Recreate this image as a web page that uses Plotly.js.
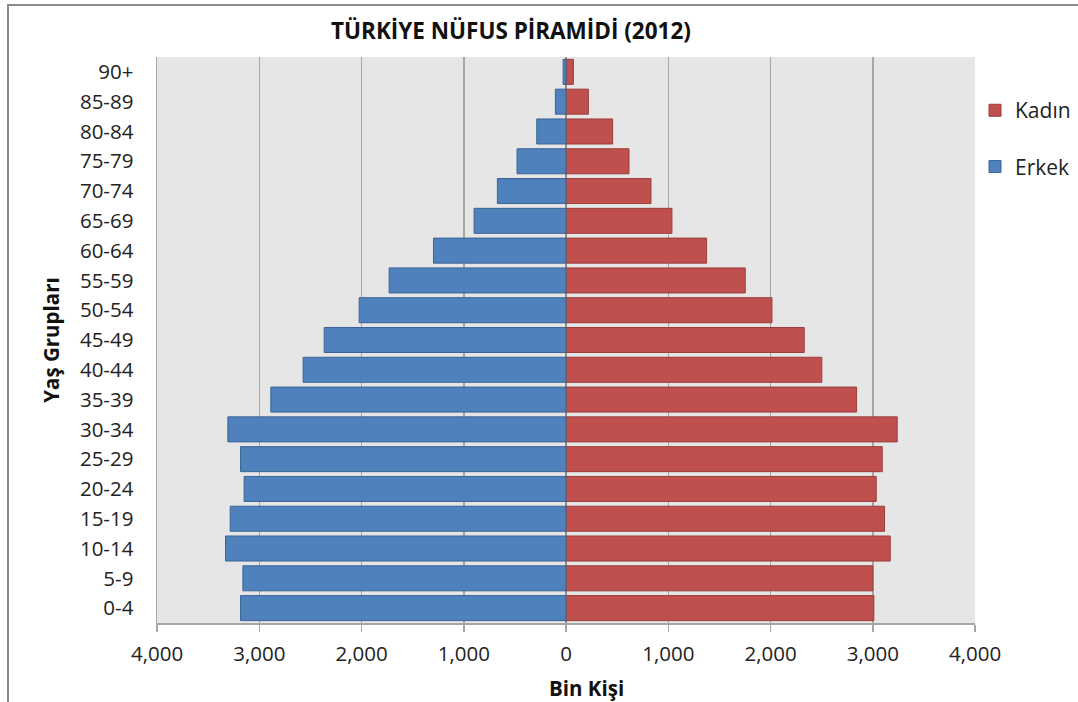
<!DOCTYPE html>
<html>
<head>
<meta charset="utf-8">
<script src="https://cdn.plot.ly/plotly-3.0.1.min.js"></script>
<style>
  html, body { margin: 0; padding: 0; background: #ffffff; }
  #frame { position: absolute; left: 7px; top: 4px; width: 1100px; height: 720px; border: 2px solid #8a8a8a; box-sizing: border-box; pointer-events: none; z-index: 5; }
  #chart { position: absolute; left: 0; top: 0; width: 1078px; height: 702px; }
</style>
</head>
<body>
<div id="chart"></div>
<div id="frame"></div>
<script>
// Age groups (bottom to top)
const ageGroups = ["0-4","5-9","10-14","15-19","20-24","25-29","30-34","35-39","40-44","45-49","50-54","55-59","60-64","65-69","70-74","75-79","80-84","85-89","90+"];
// Erkek (male), thousands
const erkek = [3183, 3160, 3330, 3284, 3148, 3183, 3307, 2887, 2571, 2365, 2023, 1730, 1296, 899, 671, 479, 286, 104, 28];
// Kadın (female), thousands
const kadin = [3011, 3001, 3171, 3115, 3034, 3093, 3239, 2842, 2502, 2330, 2014, 1753, 1375, 1036, 831, 616, 456, 219, 72];
// X ticks
const xTickVals = [-4000, -3000, -2000, -1000, 0, 1000, 2000, 3000, 4000];
const xTickText = ["4,000", "3,000", "2,000", "1,000", "0", "1,000", "2,000", "3,000", "4,000"];

const fontFam = "Open Sans, Noto Sans, sans-serif";

const traces = [
  {
    type: "bar", orientation: "h", name: "Kadın",
    y: ageGroups, x: kadin,
    marker: { color: "#C0504D", line: { color: "#9B3D3A", width: 1 } },
    legendgroup: "k", legendrank: 1,
    hoverinfo: "x+y"
  },
  {
    type: "bar", orientation: "h", name: "Erkek",
    y: ageGroups, x: erkek.map(v => -v),
    marker: { color: "#4F81BD", line: { color: "#3A6595", width: 1 } },
    legendgroup: "e", legendrank: 2,
    hoverinfo: "x+y"
  }
];

const layout = {
  width: 1078, height: 702,
  margin: { l: 157, r: 103, t: 57, b: 79, pad: 0, autoexpand: false },
  paper_bgcolor: "#ffffff",
  plot_bgcolor: "#E6E6E6",
  barmode: "relative",
  bargap: 0.16,
  font: { family: fontFam, color: "#222222", size: 20 },
  title: {
    text: "<b>TÜRKİYE NÜFUS PİRAMİDİ (2012)</b>",
    font: { family: fontFam, size: 22.5, color: "#111111" },
    x: 0.474, xanchor: "center", y: 0.955, yanchor: "middle"
  },
  xaxis: {
    range: [-4000, 4000],
    tickvals: xTickVals, ticktext: xTickText,
    showgrid: true, gridcolor: "#A6A6A6", gridwidth: 1.5,
    zeroline: true, zerolinecolor: "#8C8C8C", zerolinewidth: 1.5,
    showline: true, linecolor: "#A6A6A6", linewidth: 1.5,
    ticks: "outside", ticklen: 7, tickcolor: "#A6A6A6", tickwidth: 1.5,
    tickfont: { family: fontFam, size: 20.5, color: "#222222" },
    ticklabelstandoff: 5,
    automargin: false,
    fixedrange: true
  },
  yaxis: {
    type: "category",
    categoryorder: "array", categoryarray: ageGroups,
    showgrid: false,
    showline: true, linecolor: "#A6A6A6", linewidth: 1.5,
    ticks: "",
    tickfont: { family: fontFam, size: 20.5, color: "#222222" },
    ticklabelstandoff: 18,
    automargin: false,
    title: { text: "<b>Yaş Grupları</b>", font: { family: fontFam, size: 20.5, color: "#111111" }, standoff: 14 },
    fixedrange: true
  },
  annotations: [
    {
      text: "<b>Bin Kişi</b>", xref: "paper", yref: "paper",
      x: 0.5256, y: -0.115, xanchor: "center", yanchor: "middle",
      showarrow: false, font: { family: fontFam, size: 20.5, color: "#111111" }
    }
  ],
  legend: {
    x: 1.0, xanchor: "left", y: 0.9415, yanchor: "top",
    traceorder: "grouped", tracegroupgap: 26,
    font: { family: fontFam, size: 21, color: "#222222" },
    bgcolor: "rgba(0,0,0,0)",
    itemwidth: 30
  },
  showlegend: true
};

Plotly.newPlot("chart", traces, layout, { displayModeBar: false, staticPlot: true });
</script>
</body>
</html>
